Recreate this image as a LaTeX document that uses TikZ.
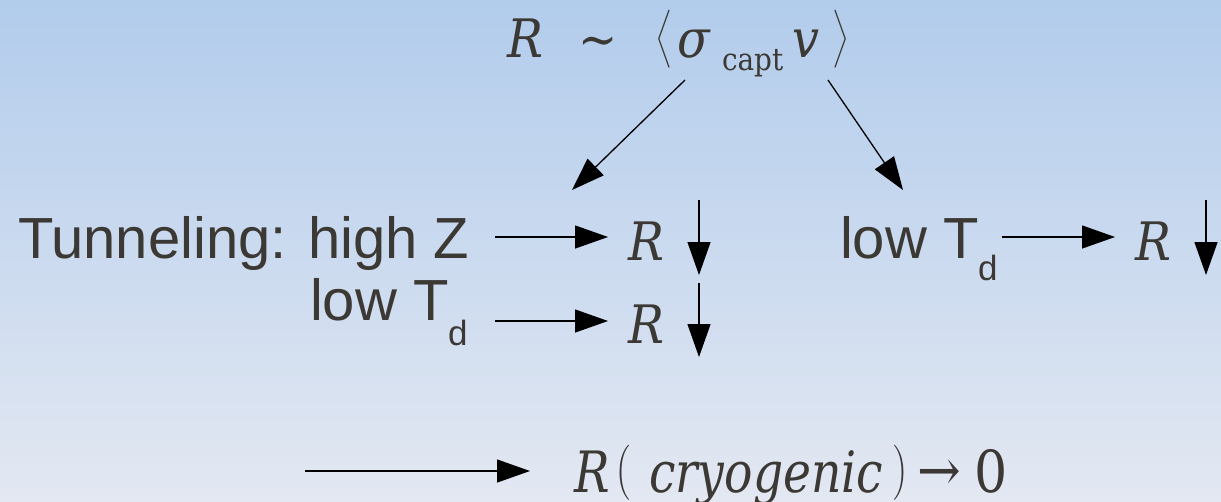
\documentclass[tikz,border=0pt]{standalone}
\usepackage{fontspec}
\setmainfont{Liberation Sans}
\newfontfamily\mf{DejaVu Serif Condensed}
\newfontfamily\mfc{DejaVu Serif Condensed}[FakeStretch=0.92]
\usetikzlibrary{arrows.meta}
\definecolor{txt}{RGB}{60,57,53}
\definecolor{bgtop}{RGB}{178,204,236}
\definecolor{bgbot}{RGB}{227,232,242}
\begin{document}
\begin{tikzpicture}[x=1pt,y=-1pt,
  every node/.style={inner sep=0pt, outer sep=0pt, text=txt},
  arr/.style={-{Triangle[length=33pt,width=23pt]}, line width=1.3pt, black},
  sans/.style={font=\fontsize{58}{58}\selectfont, anchor=base west},
  sub/.style={font=\fontsize{35}{35}\selectfont, anchor=base west},
  mr/.style={font=\mf\itshape\fontsize{53}{53}\selectfont, anchor=base west},
  mrb/.style={font=\mfc\itshape\fontsize{57}{57}\selectfont, anchor=base west},
  mu/.style={font=\mf\fontsize{52}{52}\selectfont, anchor=base west},
  mub/.style={font=\mf\fontsize{58}{58}\selectfont, anchor=base west},
  ms/.style={font=\mf\fontsize{31}{31}\selectfont, anchor=base west},
  delim/.style={anchor=north west}]
\shade[top color=bgtop, bottom color=bgbot] (0,0) rectangle (1221,501);
\useasboundingbox (0,0) rectangle (1221,501);
% top formula
\node[mr] (tR) at (507,57) {R};
\node[mu] (tilde) at (578,57) {\textasciitilde};
\node[delim] (la) at (655,10) {\resizebox*{17pt}{58pt}{$\Bigl\langle$}};
\node[mr] (sig) at (677,57) {σ};
\node[ms] (capt) at (722,70) {capt};
\node[mr] (v) at (792,57) {v};
\node[delim] (ra) at (832,10) {\resizebox*{17pt}{58pt}{$\Bigr\rangle$}};
% left branch
\node[sans] (tun) at (18,258) {Tunneling: high Z};
\node[sans] (low1) at (310,320) {low T};
\node[sub] (d1) at (448,345) {d};
\node[mr] (r1) at (628,260) {R};
\node[mr] (r2) at (628,343) {R};
% right branch
\node[sans] (low2) at (840,258) {low T};
\node[sub] (d2) at (978,280) {d};
\node[mr] (r3) at (1135,260) {R};
% bottom
\node[mrb] (bR) at (574,492) {R};
\node[delim] (lp) at (615,445) {\resizebox*{15pt}{55pt}{$\Bigl($}};
\node[mrb] (cryo) at (649,492) {cryogenic};
\node[delim] (rp) at (893,445) {\resizebox*{15pt}{55pt}{$\Bigr)$}};
\node[mub] (to) at (917,490) {→};
\node[mub] (zero) at (974,492) {0};
% connectors
\coordinate (s1) at (685,80); \coordinate (e1) at (572,190);
\coordinate (s2) at (828,80); \coordinate (e2) at (903,190);
\draw[arr] (s1) -- (e1);
\draw[arr] (s2) -- (e2);
\coordinate (h1s) at (495,237); \coordinate (h1e) at (608,237);
\coordinate (h2s) at (495,321); \coordinate (h2e) at (608,321);
\coordinate (h3s) at (1002,237); \coordinate (h3e) at (1115,237);
\coordinate (h4s) at (305,471); \coordinate (h4e) at (530,471);
\draw[arr] (h1s) -- (h1e);
\draw[arr] (h2s) -- (h2e);
\draw[arr] (h3s) -- (h3e);
\draw[arr] (h4s) -- (h4e);
\coordinate (v1s) at (699,200); \coordinate (v1e) at (699,275);
\coordinate (v2s) at (699,283); \coordinate (v2e) at (699,357);
\coordinate (v3s) at (1206,200); \coordinate (v3e) at (1206,275);
\draw[arr] (v1s) -- (v1e);
\draw[arr] (v2s) -- (v2e);
\draw[arr] (v3s) -- (v3e);
\end{tikzpicture}
\end{document}
